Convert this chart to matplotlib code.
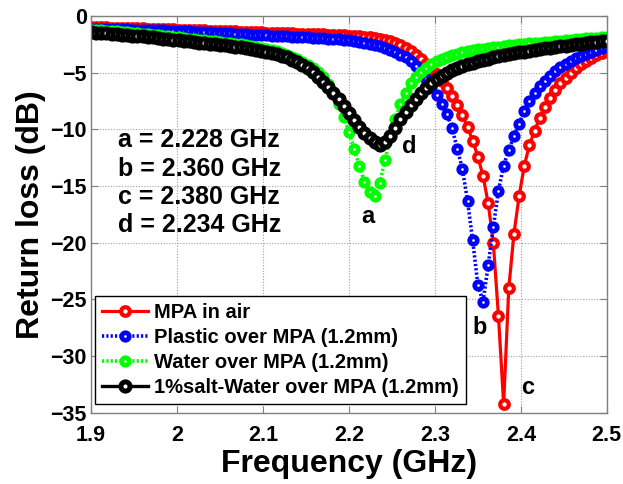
import numpy as np
import matplotlib
matplotlib.use("Agg")
import matplotlib.pyplot as plt

plt.rcParams['font.family'] = ['Liberation Sans', 'DejaVu Sans']
plt.rcParams['font.weight'] = 'bold'

# sweep: 1.9 - 2.5 GHz, 101 points
freq = np.linspace(1.9, 2.5, 101)

s11_air = [
    -0.98, -0.99, -1.00, -1.01, -1.03, -1.04, -1.05, -1.06, -1.08, -1.09,
    -1.10, -1.11, -1.13, -1.14, -1.15, -1.17, -1.18, -1.20, -1.21, -1.23,
    -1.24, -1.26, -1.27, -1.29, -1.30, -1.32, -1.33, -1.35, -1.36, -1.38,
    -1.39, -1.41, -1.43, -1.45, -1.46, -1.48, -1.49, -1.51, -1.52, -1.54,
    -1.55, -1.57, -1.58, -1.60, -1.62, -1.63, -1.65, -1.67, -1.69, -1.71,
    -1.74, -1.77, -1.80, -1.84, -1.89, -1.95, -2.03, -2.13, -2.25, -2.40,
    -2.60, -2.85, -3.10, -3.42, -3.78, -4.20, -4.65, -5.15, -5.72, -6.35,
    -7.05, -7.85, -8.75, -9.80, -11.00, -12.40, -14.10, -16.50, -20.00, -26.50,
    -34.20, -24.00, -19.20, -15.90, -13.20, -11.40, -10.10, -9.00, -8.05, -7.25,
    -6.55, -5.95, -5.45, -5.00, -4.60, -4.25, -3.95, -3.68, -3.44, -3.23,
    -3.05,
]

s11_plastic = [
    -1.12, -1.13, -1.14, -1.15, -1.16, -1.17, -1.18, -1.19, -1.20, -1.21,
    -1.22, -1.23, -1.24, -1.26, -1.27, -1.29, -1.30, -1.32, -1.34, -1.36,
    -1.38, -1.40, -1.42, -1.44, -1.46, -1.48, -1.50, -1.53, -1.55, -1.58,
    -1.61, -1.64, -1.67, -1.70, -1.72, -1.74, -1.76, -1.78, -1.80, -1.82,
    -1.84, -1.86, -1.88, -1.90, -1.93, -1.96, -1.99, -2.02, -2.06, -2.10,
    -2.15, -2.21, -2.28, -2.36, -2.45, -2.56, -2.69, -2.84, -3.01, -3.20,
    -3.40, -3.62, -3.95, -4.45, -5.00, -5.60, -6.30, -7.00, -7.80, -8.65,
    -9.90, -11.70, -13.50, -16.30, -19.80, -23.70, -25.20, -22.00, -18.60, -15.40,
    -13.20, -11.80, -10.60, -9.50, -8.40, -7.50, -6.80, -6.20, -5.70, -5.25,
    -4.85, -4.50, -4.20, -3.95, -3.72, -3.52, -3.34, -3.17, -3.01, -2.86,
    -2.72,
]

s11_water = [
    -1.20, -1.23, -1.26, -1.29, -1.32, -1.36, -1.40, -1.44, -1.48, -1.52,
    -1.56, -1.60, -1.64, -1.69, -1.74, -1.79, -1.84, -1.89, -1.94, -1.99,
    -2.04, -2.09, -2.14, -2.19, -2.24, -2.29, -2.34, -2.39, -2.45, -2.51,
    -2.57, -2.64, -2.72, -2.80, -2.89, -2.99, -3.11, -3.25, -3.41, -3.59,
    -3.79, -4.02, -4.28, -4.58, -4.93, -5.40, -6.00, -6.80, -7.80, -8.90,
    -10.20, -11.70, -13.20, -14.60, -15.50, -15.90, -14.70, -12.70, -10.70, -9.10,
    -7.80, -6.75, -5.95, -5.35, -4.90, -4.55, -4.25, -4.00, -3.80, -3.62,
    -3.47, -3.34, -3.22, -3.12, -3.03, -2.95, -2.88, -2.82, -2.76, -2.70,
    -2.65, -2.60, -2.55, -2.50, -2.46, -2.42, -2.38, -2.34, -2.30, -2.26,
    -2.22, -2.18, -2.14, -2.10, -2.06, -2.02, -1.98, -1.95, -1.92, -1.89,
    -1.86,
]

s11_salt = [
    -1.45, -1.48, -1.51, -1.54, -1.57, -1.61, -1.65, -1.69, -1.73, -1.77,
    -1.81, -1.85, -1.89, -1.94, -1.99, -2.04, -2.09, -2.14, -2.19, -2.24,
    -2.29, -2.34, -2.39, -2.44, -2.49, -2.54, -2.59, -2.64, -2.70, -2.76,
    -2.82, -2.89, -2.97, -3.05, -3.14, -3.24, -3.36, -3.50, -3.66, -3.84,
    -4.04, -4.30, -4.60, -4.95, -5.35, -5.80, -6.30, -6.80, -7.35, -7.95,
    -8.55, -9.15, -9.75, -10.30, -10.80, -11.15, -11.35, -11.15, -10.60, -9.85,
    -9.10, -8.45, -7.85, -7.30, -6.80, -6.35, -5.95, -5.60, -5.30, -5.03,
    -4.80, -4.60, -4.42, -4.26, -4.12, -3.99, -3.87, -3.76, -3.66, -3.56,
    -3.47, -3.38, -3.30, -3.22, -3.14, -3.07, -3.00, -2.93, -2.86, -2.79,
    -2.73, -2.67, -2.61, -2.55, -2.49, -2.43, -2.38, -2.33, -2.28, -2.23,
    -2.18,
]

labels = ['MPA in air', 'Plastic over MPA (1.2mm)',
          'Water over MPA (1.2mm)', '1%salt-Water over MPA (1.2mm)']
notes = ['a = 2.228 GHz', 'b = 2.360 GHz', 'c = 2.380 GHz', 'd = 2.234 GHz']
letters = ['a', 'b', 'c', 'd']
letter_xy = [(2.222, -17.7), (2.352, -27.5), (2.408, -32.8), (2.270, -11.5)]
xticks = [1.9, 2.0, 2.1, 2.2, 2.3, 2.4, 2.5]
xticklabels = ['1.9', '2', '2.1', '2.2', '2.3', '2.4', '2.5']
yticks = [0, -5, -10, -15, -20, -25, -30, -35]

fig = plt.figure(figsize=(6.23, 4.84), dpi=100)
ax = fig.add_axes([0.146, 0.147, 0.828, 0.820])

dotted = (0, (0.6, 0.6))
green = '#00ff00'
ax.plot(freq, s11_air, color='red', lw=2.3, ls='-', marker='o', ms=6.2,
        mfc='white', mec='red', mew=3.0, label=labels[0])
ax.plot(freq, s11_plastic, color='blue', lw=2.6, ls=dotted, marker='o', ms=5.4,
        mfc='white', mec='blue', mew=3.4, label=labels[1])
ax.plot(freq, s11_water, color=green, lw=2.6, ls=dotted, marker='o', ms=5.4,
        mfc='white', mec=green, mew=3.4, label=labels[2])
ax.plot(freq, s11_salt, color='black', lw=2.4, ls='-', marker='o', ms=6.6,
        mfc='white', mec='black', mew=3.6, label=labels[3])

ax.set_xlim(1.9, 2.5)
ax.set_ylim(-35, 0)
ax.set_xticks(xticks)
ax.set_xticklabels(xticklabels)
ax.set_yticks(yticks)
ax.tick_params(direction='in', top=True, right=True, length=5,
               color='#808080', labelsize=15.5)
ax.tick_params(axis='x', pad=9)
ax.tick_params(axis='y', pad=3)
for lab in ax.get_xticklabels() + ax.get_yticklabels():
    lab.set_fontweight('bold')
for sp in ax.spines.values():
    sp.set_color('#808080')
    sp.set_linewidth(1.0)
ax.grid(True, ls=(0, (1, 1.5)), color='#a0a0a0', lw=0.8)
ax.set_axisbelow(True)

ax.set_xlabel('Frequency (GHz)', fontsize=23, fontweight='bold', labelpad=2)
ax.set_ylabel('Return loss (dB)', fontsize=23, fontweight='bold', labelpad=3)

ax.text(1.9314, -14.7, '\n'.join(notes), fontsize=18, fontweight='bold',
        ha='left', va='center', linespacing=1.22)
for ch, (x, y) in zip(letters, letter_xy):
    ax.text(x, y, ch, fontsize=17, fontweight='bold', ha='center', va='center')

leg = ax.legend(loc='lower left', bbox_to_anchor=(0.008, 0.023), borderaxespad=0,
                prop={'size': 14.5, 'weight': 'bold'}, fancybox=False, framealpha=1,
                edgecolor='black', handlelength=2.3, handletextpad=0.3,
                labelspacing=0.3, borderpad=0.35)
leg.get_frame().set_linewidth(1.0)

fig.savefig('out.png', dpi=100)
